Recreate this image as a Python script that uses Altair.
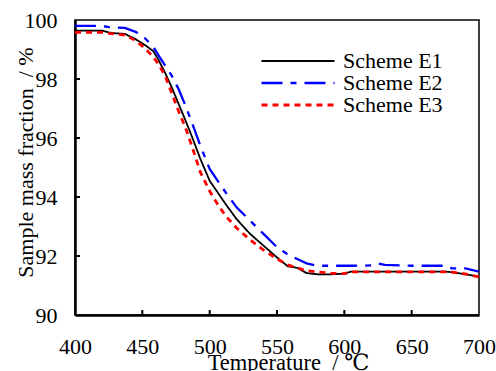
import altair as alt
import pandas as pd

temps = [400, 410, 420, 425, 430, 437, 445, 452, 458, 462, 467, 472, 477, 482, 487,
         493, 500, 506, 512, 520, 530, 540, 550, 558, 565, 572, 580, 590, 600, 605,
         620, 625, 630, 650, 675, 680, 690, 700]
e1 = [99.64, 99.64, 99.64, 99.58, 99.55, 99.53, 99.35, 99.15, 98.95, 98.65, 98.2, 97.7,
      97.15, 96.6, 96.03, 95.3, 94.55, 94.15, 93.75, 93.25, 92.75, 92.35, 91.95, 91.65,
      91.6, 91.42, 91.38, 91.38, 91.4, 91.47, 91.47, 91.47, 91.47, 91.47, 91.47, 91.45,
      91.38, 91.3]
e2 = [99.8, 99.8, 99.8, 99.76, 99.75, 99.73, 99.6, 99.38, 99.1, 98.8, 98.45, 98.1,
      97.65, 97.1, 96.5, 95.75, 94.95, 94.55, 94.15, 93.65, 93.2, 92.75, 92.3, 92.05,
      91.9, 91.75, 91.67, 91.67, 91.67, 91.67, 91.68, 91.75, 91.7, 91.67, 91.67, 91.58,
      91.58, 91.47]
e3 = [99.58, 99.58, 99.58, 99.55, 99.53, 99.49, 99.3, 99.04, 98.75, 98.5, 98.1, 97.5,
      96.9, 96.35, 95.7, 94.85, 94.2, 93.75, 93.35, 92.95, 92.55, 92.2, 91.9, 91.7,
      91.6, 91.5, 91.46, 91.42, 91.4, 91.46, 91.46, 91.46, 91.46, 91.46, 91.46, 91.45,
      91.39, 91.29]
series_names = ["Scheme E1", "Scheme E2", "Scheme E3"]
x_labels = [400, 450, 500, 550, 600, 650, 700]
y_labels = [90, 92, 94, 96, 98, 100]
x_inner_ticks = [450, 500, 550, 600, 650]
y_inner_ticks = [92, 94, 96, 98]

rows = []
for name, vals in zip(series_names, [e1, e2, e3]):
    for t, v in zip(temps, vals):
        rows.append({"T": t, "v": v, "s": name})
df = pd.DataFrame(rows)

FONT = "Liberation Serif, Times New Roman, DejaVu Serif, serif"
W, H = 404, 295
xscale = alt.Scale(domain=[400, 700], nice=False, zero=False)
yscale = alt.Scale(domain=[90, 100], nice=False, zero=False)

legend = alt.Legend(
    title=None, orient="none", legendX=185, legendY=30, symbolType="stroke",
    symbolSize=5329, clipHeight=22, labelFont=FONT, labelFontSize=22,
    labelColor="black", labelOffset=7, rowPadding=0, padding=0, labelLimit=0,
)

xaxis = alt.Axis(
    values=x_labels, format="d", labelFont=FONT, labelFontSize=22, labelColor="black",
    labelBaseline="alphabetic", labelPadding=38, ticks=False, tickSize=0,
    domainColor="black", domainWidth=2.5, grid=False, labelFlush=False,
    labelOverlap=False, title="Temperature\u00a0 / \u2103", titleFont=FONT,
    titleFontSize=22.5, titleFontWeight="normal", titleColor="black", titleX=213,
    titleY=54, titleBaseline="alphabetic", titleAlign="center",
)
yaxis = alt.Axis(
    values=y_labels, format="d", labelFont=FONT, labelFontSize=22, labelColor="black",
    labelBaseline="middle", labelPadding=18, ticks=False, tickSize=0,
    domainColor="black", domainWidth=2.5, grid=False, labelFlush=False,
    labelOverlap=False, title="Sample mass fraction\u00a0 / %", titleFont=FONT,
    titleFontSize=22, titleFontWeight="normal", titleColor="black", titleX=-43,
    titleY=142, titleBaseline="alphabetic", titleAlign="center", titleAngle=270,
)

lines = alt.Chart(df).mark_line(clip=True).encode(
    x=alt.X("T:Q", scale=xscale, axis=xaxis),
    y=alt.Y("v:Q", scale=yscale, axis=yaxis),
    color=alt.Color("s:N", scale=alt.Scale(domain=series_names,
                    range=["#000000", "#0000ff", "#ff0000"]), legend=legend),
    strokeDash=alt.StrokeDash("s:N", scale=alt.Scale(domain=series_names,
                    range=[[1, 0], [21, 8, 6, 8], [6, 5]]), legend=legend),
    strokeWidth=alt.StrokeWidth("s:N", scale=alt.Scale(domain=series_names,
                    range=[1.8, 2.8, 2.8]), legend=legend),
)

xt = alt.Chart(pd.DataFrame({"T": x_inner_ticks})).mark_rule(
    color="black", strokeWidth=2).encode(
    x=alt.X("T:Q", scale=xscale, axis=xaxis),
    y=alt.value(H), y2=alt.value(H - 5),
)
yt = alt.Chart(pd.DataFrame({"v": y_inner_ticks})).mark_rule(
    color="black", strokeWidth=2).encode(
    y=alt.Y("v:Q", scale=yscale, axis=yaxis),
    x=alt.value(0), x2=alt.value(5),
)

chart = alt.layer(lines, xt, yt).properties(
    width=W, height=H,
    autosize=alt.AutoSizeParams(type="none"),
    padding={"left": 75, "top": 20, "right": 17, "bottom": 56},
    background="white",
).configure_view(stroke="black", strokeWidth=1.5)

chart.save("out.html", embed_options={"renderer": "svg", "actions": False})
